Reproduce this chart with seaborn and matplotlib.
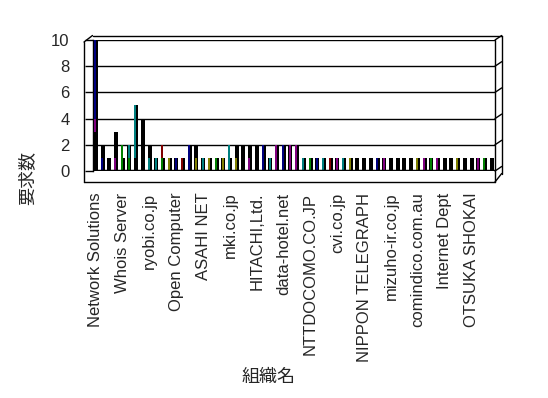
import matplotlib
matplotlib.use('Agg')
import matplotlib.pyplot as plt
import seaborn as sns
import pandas as pd

# 60 organisations, only every 4th name is printed on the axis
n_orgs = 60
tick_names = ['Network Solutions', 'Whois Server', 'ryobi.co.jp', 'Open Computer',
              'ASAHI NET', 'mki.co.jp', 'HITACHI,Ltd.', 'data-hotel.net',
              'NTTDOCOMO.CO.JP', 'cvi.co.jp', 'NIPPON TELEGRAPH', 'mizuho-ir.co.jp',
              'comindico.com.au', 'Internet Dept', 'OTSUKA SHOKAI']

# request count per organisation (total bar height)
totals = [10, 2, 1, 3, 1, 2, 5, 4, 2, 1,
          1, 1, 1, 1, 2, 2, 1, 1, 1, 1,
          1, 2, 2, 2, 2, 2, 1, 2, 2, 2,
          2, 1, 1, 1, 1, 1, 1, 1, 1, 1,
          1, 1, 1, 1, 1, 1, 1, 1, 1, 1,
          1, 1, 1, 1, 1, 1, 1, 1, 1, 1]

# coloured series segments, stacked in order inside each organisation
seg_org = [0, 0, 0, 1, 3, 4, 5, 5, 6, 6,
           8, 9, 10, 10, 11, 12, 13, 14, 15, 16,
           17, 18, 19, 20, 21, 23, 25, 26, 27, 28,
           29, 30, 31, 32, 33, 34, 35, 36, 37, 38,
           42, 43, 48, 49, 50, 51, 54, 57, 58]
seg_series = [0, 2, 1, 1, 2, 4, 4, 3, 0, 3,
              3, 3, 4, 6, 5, 1, 6, 1, 5, 3,
              5, 4, 5, 3, 5, 2, 1, 3, 2, 1,
              2, 2, 3, 4, 1, 3, 6, 2, 3, 5,
              1, 2, 5, 2, 4, 2, 5, 2, 4]
seg_count = [3, 1, 6, 1, 1, 2, 1, 1, 1, 4,
             1, 1, 1, 1, 1, 1, 1, 2, 1, 1,
             1, 1, 1, 2, 1, 1, 2, 1, 2, 2,
             2, 2, 1, 1, 1, 1, 1, 1, 1, 1,
             1, 1, 1, 1, 1, 1, 1, 1, 1]

series_colors = ['#000000', '#000080', '#800080', '#008080', '#008000', '#808000', '#800000']

W, H = 548, 398
AX_L, AX_R, AX_T, AX_B = 92.5, 495, 40, 171   # plot box in pixels

sns.set_style('white')
plt.rcParams['font.family'] = ['Liberation Sans', 'Noto Sans CJK JP']

fig = plt.figure(figsize=(W / 100, H / 100), dpi=100)
ax = fig.add_axes([AX_L / W, 1 - AX_B / H, (AX_R - AX_L) / W, (AX_B - AX_T) / H])

ax.yaxis.grid(True, color='black', lw=1.0, zorder=0)
ax.set_axisbelow(True)

bar_kw = dict(native_scale=True, errorbar=None, saturation=1, linewidth=0,
              edgecolor='none', ax=ax)

# dark 3D body of each column
back = pd.DataFrame({'pos': list(range(n_orgs)), 'count': totals})
sns.barplot(data=back, x='pos', y='count', color='black', width=0.6, zorder=2, **bar_kw)

# coloured front faces, stacked: draw tallest layer first so lower ones overlay it
segs = pd.DataFrame({'org': seg_org, 'series': seg_series, 'count': seg_count})
segs['top'] = segs.groupby('org')['count'].cumsum()
segs['layer'] = segs.groupby('org').cumcount()
segs['pos'] = segs['org'] - 0.1
pal = {i: c for i, c in enumerate(series_colors)}
for layer in sorted(segs['layer'].unique(), reverse=True):
    d = segs[segs['layer'] == layer]
    sns.barplot(data=d, x='pos', y='top', hue='series', palette=pal, dodge=False,
                width=0.3, legend=False, zorder=3, **bar_kw)

ax.axhline(0, color='black', lw=2.5, zorder=4)

ax.set_xlim(-0.5, n_orgs - 0.5)
ax.set_ylim(0, 10)
ax.set_yticks(range(0, 11, 2))
ax.set_xticks(range(0, n_orgs, 4))
ax.set_xticklabels(tick_names, rotation=90, fontsize=12)
ax.set_xticks([i - 0.5 for i in range(n_orgs + 1)], minor=True)
ax.tick_params(axis='x', which='major', length=0, pad=15.5)
ax.tick_params(axis='x', which='minor', length=8, width=1, color='black', direction='out')
ax.tick_params(axis='y', length=6.1, width=1, color='black', direction='out',
               labelsize=12, pad=10.5, left=True)
ax.set_xlabel('')
ax.set_ylabel('')
for s in ['top', 'right', 'bottom']:
    ax.spines[s].set_visible(False)
ax.spines['left'].set_color('black')
ax.spines['left'].set_linewidth(1)

# 3D frame drawn around the plot box (pixel coordinates)
deco = fig.add_axes([0, 0, 1, 1], zorder=5)
deco.set_xlim(0, W)
deco.set_ylim(H, 0)
deco.axis('off')
deco.patch.set_alpha(0)
depth_x = 6.7
floor_y = 182
kw = dict(color='black', lw=1)
deco.plot([84, 84], [AX_T + 2, floor_y], **kw)
deco.plot([84, AX_L], [AX_T + 2, AX_T - 4.5], **kw)
deco.plot([AX_L, AX_R + depth_x], [AX_T - 4.5, AX_T - 4.5], **kw)
deco.plot([AX_R, AX_R], [AX_T, floor_y], **kw)
deco.plot([AX_R + depth_x, AX_R + depth_x], [AX_T - 4.5, floor_y - 8.5], **kw)
deco.plot([84, AX_R], [floor_y, floor_y], **kw)
deco.plot([AX_R, AX_R + depth_x], [floor_y, floor_y - 8.5], **kw)
px_per_unit = (AX_B - AX_T) / 10
for v in range(0, 11, 2):
    y = AX_B - v * px_per_unit
    deco.plot([AX_R, AX_R + depth_x], [y, y - 4.5], **kw)

fig.text(28 / W, 1 - 178 / H, '要求数', rotation=90, ha='center', va='center', fontsize=13)
fig.text(269 / W, 1 - 377 / H, '組織名', ha='center', va='center', fontsize=13)

fig.savefig('out.png', dpi=100)
